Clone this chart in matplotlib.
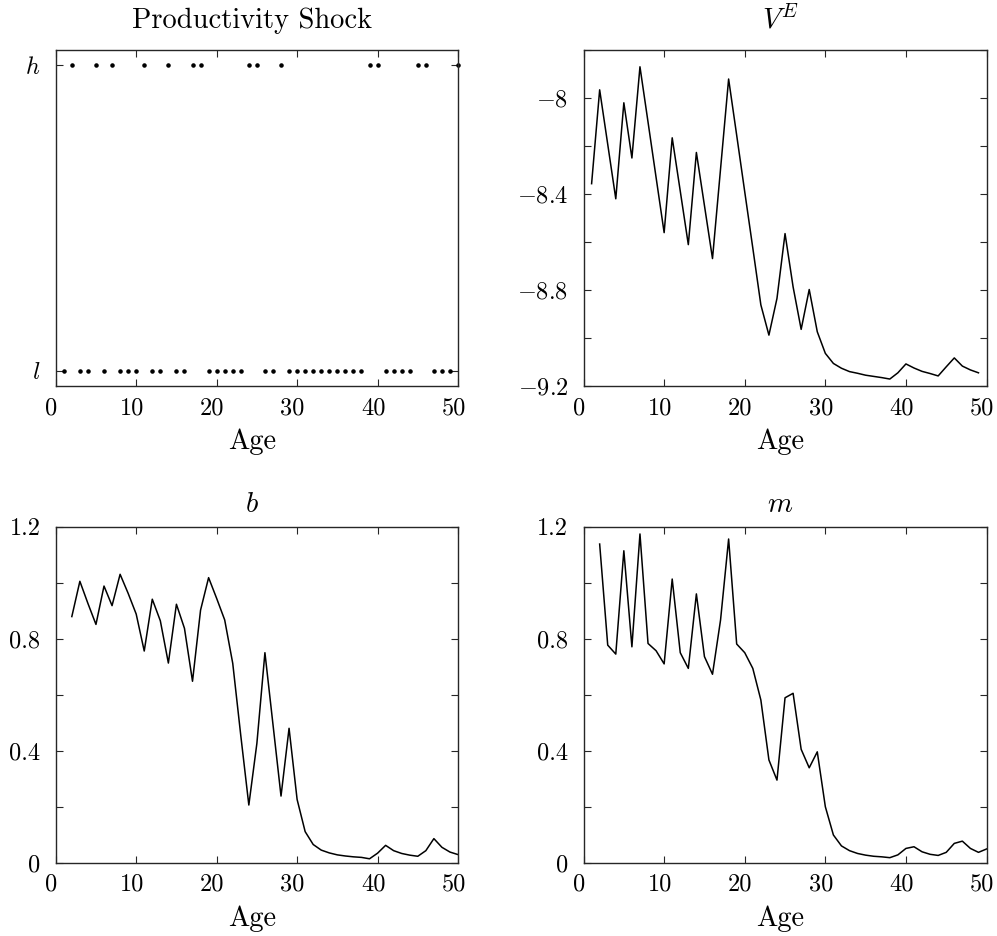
import matplotlib
matplotlib.use("Agg")
import matplotlib.pyplot as plt
import matplotlib.transforms as mtrans

plt.rcParams['font.family'] = 'serif'
plt.rcParams['font.serif'] = ['cmr10']
plt.rcParams['mathtext.fontset'] = 'cm'
plt.rcParams['axes.formatter.use_mathtext'] = True

# shock state for each age 1..50
shock = ['l', 'h', 'l', 'l', 'h', 'l', 'h', 'l', 'l', 'l',
         'h', 'l', 'l', 'h', 'l', 'l', 'h', 'h', 'l', 'l',
         'l', 'l', 'l', 'h', 'h', 'l', 'l', 'h', 'l', 'l',
         'l', 'l', 'l', 'l', 'l', 'l', 'l', 'l', 'h', 'h',
         'l', 'l', 'l', 'l', 'h', 'h', 'l', 'l', 'l', 'h']
shock_ages = list(range(1, 51))

# value of employment, ages 1..49
ve_ages = list(range(1, 50))
ve = [-8.357, -7.966, -8.193, -8.420, -8.020, -8.250, -7.870, -8.100, -8.331, -8.561,
      -8.166, -8.388, -8.611, -8.227, -8.448, -8.669, -8.295, -7.921, -8.155, -8.391,
      -8.625, -8.862, -8.988, -8.835, -8.565, -8.787, -8.964, -8.798, -8.974, -9.064,
      -9.106, -9.126, -9.140, -9.147, -9.155, -9.160, -9.165, -9.171, -9.145, -9.108,
      -9.125, -9.139, -9.148, -9.158, -9.120, -9.083, -9.117, -9.133, -9.145]

# b and m, ages 2..50
bm_ages = list(range(2, 51))
b = [0.879, 1.005, 0.926, 0.851, 0.988, 0.918, 1.030, 0.962, 0.888, 0.756,
     0.941, 0.864, 0.713, 0.923, 0.837, 0.648, 0.902, 1.018, 0.944, 0.867,
     0.712, 0.454, 0.206, 0.426, 0.750, 0.494, 0.238, 0.480, 0.226, 0.111,
     0.065, 0.045, 0.035, 0.028, 0.024, 0.021, 0.019, 0.014, 0.034, 0.062,
     0.043, 0.033, 0.027, 0.023, 0.043, 0.086, 0.055, 0.038, 0.029]
m = [1.138, 0.777, 0.745, 1.114, 0.771, 1.174, 0.783, 0.757, 0.710, 1.013,
     0.750, 0.694, 0.960, 0.736, 0.673, 0.867, 1.156, 0.781, 0.750, 0.694,
     0.581, 0.367, 0.295, 0.589, 0.605, 0.405, 0.339, 0.396, 0.200, 0.099,
     0.060, 0.043, 0.033, 0.027, 0.023, 0.021, 0.018, 0.028, 0.051, 0.057,
     0.039, 0.030, 0.026, 0.037, 0.069, 0.077, 0.051, 0.037, 0.049]

age_ticks = [0, 10, 20, 30, 40, 50]
ve_ticks = [-9.2, -9.0, -8.8, -8.6, -8.4, -8.2, -8.0, -7.8]
ve_labels = ['$-9.2$', '', '$-8.8$', '', '$-8.4$', '', '$-8$', '']
bm_ticks = [0, 0.2, 0.4, 0.6, 0.8, 1.0, 1.2]
bm_labels = ['0', '', '0.4', '', '0.8', '', '1.2']

axcol = '#262626'
fig = plt.figure(figsize=(9.97, 9.36), dpi=100)
ax1 = fig.add_axes([0.0559, 0.5876, 0.4035, 0.359])
ax2 = fig.add_axes([0.5853, 0.5876, 0.4042, 0.359])
ax3 = fig.add_axes([0.0559, 0.0783, 0.4035, 0.359])
ax4 = fig.add_axes([0.5853, 0.0783, 0.4042, 0.359])

# text in the original sits a few pixels left of centre
shift = mtrans.ScaledTranslation(-0.045, 0, fig.dpi_scale_trans)


def style(ax, title, tpad):
    ax.set_xlim(0, 50)
    ax.set_xticks(age_ticks)
    ax.set_xticklabels([str(t) for t in age_ticks])
    ax.tick_params(direction='in', top=True, right=True, length=5, width=0.8,
                   color=axcol, labelsize=17.5)
    ax.tick_params(axis='x', pad=8)
    ax.tick_params(axis='y', pad=11)
    for s in ax.spines.values():
        s.set_color(axcol)
        s.set_linewidth(1.0)
    ax.set_xlabel('Age', fontsize=20.5, labelpad=7)
    ax.set_title(title, fontsize=20.5, pad=tpad)
    for lab in ax.get_xticklabels():
        lab.set_transform(lab.get_transform() + shift)
    ax.xaxis.label.set_transform(ax.xaxis.label.get_transform() + shift)
    ax.title.set_transform(ax.title.get_transform() + shift)


# productivity shock dots
yvals = [1 if s == 'h' else 0 for s in shock]
ax1.plot(shock_ages, yvals, linestyle='none', marker='.', markersize=4.5,
         color='black', clip_on=False)
ax1.set_ylim(-0.05, 1.05)
ax1.set_yticks([0, 1])
ax1.set_yticklabels(['$l$', '$h$'])
style(ax1, 'Productivity Shock', 15.6)

ax2.plot(ve_ages, ve, color='black', linewidth=1.1)
ax2.set_ylim(-9.2, -7.8)
ax2.set_yticks(ve_ticks)
ax2.set_yticklabels(ve_labels)
style(ax2, '$V^E$', 15.6)

ax3.plot(bm_ages, b, color='black', linewidth=1.1)
ax3.set_ylim(0, 1.2)
ax3.set_yticks(bm_ticks)
ax3.set_yticklabels(bm_labels)
style(ax3, '$b$', 10.5)

ax4.plot(bm_ages, m, color='black', linewidth=1.1)
ax4.set_ylim(0, 1.2)
ax4.set_yticks(bm_ticks)
ax4.set_yticklabels(bm_labels)
style(ax4, '$m$', 10.5)

plt.savefig('out.png', dpi=100)
